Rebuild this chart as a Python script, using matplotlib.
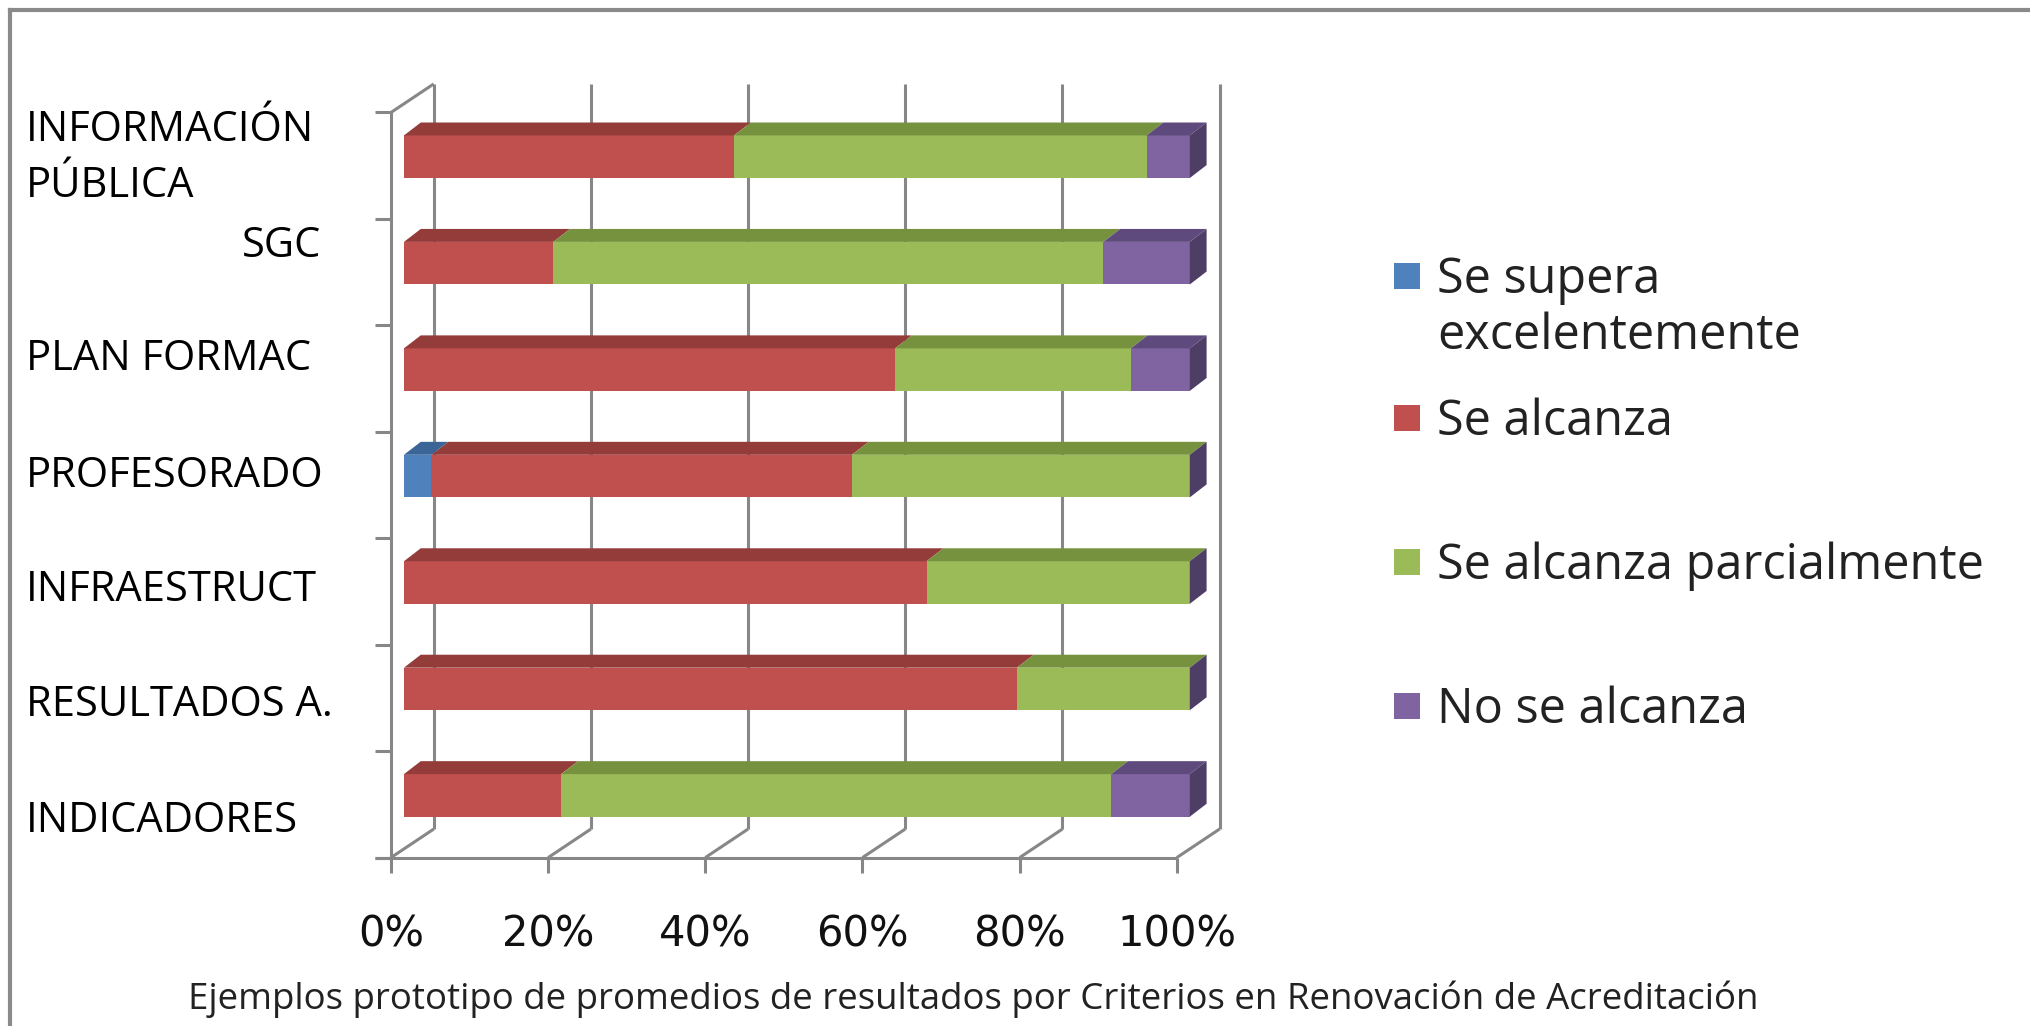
import matplotlib
matplotlib.use("Agg")
import matplotlib.pyplot as plt
from matplotlib.patches import Polygon, Rectangle
from matplotlib.lines import Line2D
from matplotlib.transforms import blended_transform_factory

# datos (de abajo hacia arriba)
categorias = ["INDICADORES", "RESULTADOS A.", "INFRAESTRUCT", "PROFESORADO",
              "PLAN FORMAC", "SGC", "INFORMACIÓN\nPÚBLICA"]
series = ["Se supera\nexcelentemente", "Se alcanza",
          "Se alcanza parcialmente", "No se alcanza"]
supera = [0, 0, 0, 3.5, 0, 0, 0]
alcanza = [20, 78, 66.5, 53.5, 62.5, 19, 42]
parcial = [70, 22, 33.5, 43, 30, 70, 52.5]
no_alcanza = [10, 0, 0, 0, 7.5, 11, 5.5]
ticks = [0, 20, 40, 60, 80, 100]
tick_labels = ["0%", "20%", "40%", "60%", "80%", "100%"]
titulo = ("Ejemplos prototipo de promedios de resultados por Criterios "
          "en Renovación de Acreditación")

colores = ["#4F81BD", "#C0504D", "#9BBB59", "#8064A2"]
colores_top = ["#3B6596", "#943C3A", "#77923E", "#5F4A7D"]
color_lado = "#4E3E66"
gris = "#878787"

# posicion vertical de las etiquetas (en unidades de categoria)
label_y = [-0.245, 0.851, 1.934, 3.005, 4.100, 5.159, 5.99]

W, H = 1568.0, 792.0  # coordenadas de referencia

fig = plt.figure(figsize=(20.3, 10.26), dpi=100)
ax = fig.add_axes([280 / W, 1 - 680 / H, 680 / W, 630 / H])
ax.set_xlim(-5.272, 106.755)
ax.set_ylim(-0.8032, 6.864)
ax.set_axis_off()

# profundidad 3D
px = 1 / 6.07
py = 1 / 82.17
FX, FY = -10 * px, -6.9 * py       # plano frontal
BX, BY = FX + 33 * px, FY + 22 * py  # pared del fondo
bdx, bdy = 13 * px, 10 * py        # profundidad de la barra
n = len(categorias)

def linea(xs, ys, **kw):
    ax.add_line(Line2D(xs, ys, color=gris, lw=2.2, clip_on=False,
                       solid_capstyle="butt", **kw))

y_floor_f = -0.5 + FY
y_floor_b = -0.5 + BY
for t, lab in zip(ticks, tick_labels):
    # lineas de la pared del fondo y del suelo
    linea([t + BX, t + BX], [y_floor_b, n - 0.5 + BY], zorder=1)
    linea([t + BX, t + FX], [y_floor_b, y_floor_f], zorder=1)
    # marcas del eje x
    linea([t + FX, t + FX], [y_floor_f, y_floor_f - 12 * py], zorder=1)
    ax.text(t + FX, -1.31, lab, ha="center", va="center", fontsize=30,
            family="DejaVu Sans", color="#111111")

# borde frontal del suelo
linea([FX - 12 * px, 100 + FX], [y_floor_f, y_floor_f], zorder=1)
# pared izquierda
linea([FX, FX], [y_floor_f, n - 0.5 + FY], zorder=1)
linea([FX, BX], [n - 0.5 + FY, n - 0.5 + BY], zorder=1)
for k in range(n + 1):
    yk = k - 0.5 + FY
    linea([FX - 12 * px, FX], [yk, yk], zorder=1)

# barras apiladas
valores = [supera, alcanza, parcial, no_alcanza]
pos = list(range(n))
izq = [0.0] * n
filas = []
for s, vals in enumerate(valores):
    bars = ax.barh(pos, vals, left=izq, height=0.40, color=colores[s],
                   edgecolor="none", zorder=3, label=series[s])
    filas.append(bars)
    for r in bars:
        x0, y0, w, h = r.get_x(), r.get_y(), r.get_width(), r.get_height()
        if w > 0:
            ax.add_patch(Polygon([(x0, y0 + h), (x0 + w, y0 + h),
                                  (x0 + w + bdx, y0 + h + bdy),
                                  (x0 + bdx, y0 + h + bdy)],
                                 closed=True, color=colores_top[s],
                                 lw=0, zorder=3))
    izq = [a + b for a, b in zip(izq, vals)]

# cara lateral derecha
for r in filas[-1]:
    x1 = r.get_x() + r.get_width()
    y0, h = r.get_y(), r.get_height()
    ax.add_patch(Polygon([(x1, y0), (x1, y0 + h), (x1 + bdx, y0 + h + bdy),
                          (x1 + bdx, y0 + bdy)], closed=True,
                         color=color_lado, lw=0, zorder=3))

# etiquetas de categorias
trans = blended_transform_factory(fig.transFigure, ax.transData)
for i, cat in enumerate(categorias):
    if cat == "SGC":
        ax.text(248 / W, label_y[i], cat, transform=trans, ha="right",
                va="center", fontsize=30, family="Open Sans")
    else:
        ax.text(20 / W, label_y[i], cat, transform=trans, ha="left",
                va="center", fontsize=30, family="Open Sans",
                linespacing=1.45)

# leyenda
leg_y = [213, 323, 434, 545]
for s, nombre in enumerate(series):
    yc = 1 - leg_y[s] / H
    fig.add_artist(Rectangle((1077 / W, yc - 10 / H), 20 / W, 20 / H,
                             transform=fig.transFigure, color=colores[s],
                             lw=0))
    fig.text(1110 / W, yc + 16 / H, nombre, ha="left", va="top",
             fontsize=35, family="Open Sans", color="#222222",
             linespacing=1.18)

# titulo inferior
fig.text(751.5 / W, 1 - 771 / H, titulo, ha="center", va="center",
         fontsize=26.4, family="Open Sans", color="#222222")

# marco
fig.add_artist(Line2D([10 / 2030, 1], [1 - 10 / 1026, 1 - 10 / 1026],
                      transform=fig.transFigure, color="#8A8A8A", lw=3))
fig.add_artist(Line2D([10 / 2030, 10 / 2030], [0, 1 - 10 / 1026],
                      transform=fig.transFigure, color="#8A8A8A", lw=3))

fig.savefig("out.png", dpi=100)
